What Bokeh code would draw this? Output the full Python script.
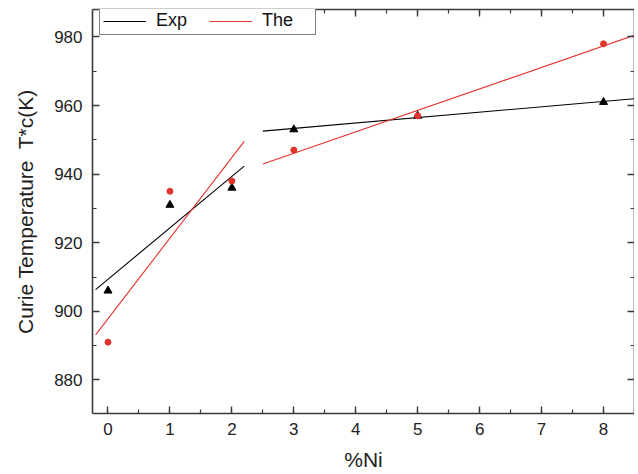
import numpy as np
from bokeh.plotting import figure
from bokeh.models import (LinearAxis, SingleIntervalTicker, Legend, LegendItem, Range1d,
                          CustomJSTickFormatter)
from bokeh.embed import file_html
from bokeh.resources import INLINE

# Data
ni = [0, 1, 2, 3, 5, 8]
tc_exp = [906, 931, 936, 953, 957, 961]
tc_the = [891, 935, 938, 947, 957, 978]
# fit groups (indices into data) and fit x extents
fit_groups = [[0, 1, 2], [3, 4, 5]]
fit_extents = [[-0.2, 2.2], [2.5, 8.5]]

BLACK = "#000000"
RED = "#e3342c"
AX = "#3a3a3a"
FONT = "Liberation Sans"

p = figure(frame_width=542, frame_height=404, x_range=Range1d(-0.25, 8.5),
           y_range=Range1d(870.2, 988), output_backend="svg", toolbar_location=None,
           min_border_left=92, min_border_top=9, min_border_right=0, min_border_bottom=0,
           x_axis_location=None, y_axis_location=None)
p.outline_line_color = None
p.xgrid.visible = False
p.ygrid.visible = False


def style_axis(ax, labels=True):
    ax.axis_line_color = AX
    ax.axis_line_width = 1.6
    ax.major_tick_line_color = AX
    ax.minor_tick_line_color = AX
    ax.major_tick_line_width = 1.4
    ax.minor_tick_line_width = 1.2
    ax.major_tick_in = 7
    ax.major_tick_out = 0
    ax.minor_tick_in = 4
    ax.minor_tick_out = 0
    ax.major_label_text_font = FONT
    ax.major_label_text_color = "#222222"
    ax.axis_label_text_font = FONT
    ax.axis_label_text_font_style = "normal"
    ax.axis_label_text_color = "#222222"
    if not labels:
        ax.formatter = CustomJSTickFormatter(code="return ''")
        ax.major_label_standoff = 0


xt = SingleIntervalTicker(interval=1, num_minor_ticks=2)
yt = SingleIntervalTicker(interval=20, num_minor_ticks=2)

xb = LinearAxis(ticker=xt, axis_label="%Ni")
style_axis(xb)
xb.major_label_text_font_size = "17px"
xb.major_label_standoff = 9
xb.axis_label_text_font_size = "21px"
xb.axis_label_standoff = 10
p.add_layout(xb, "below")

yl = LinearAxis(ticker=yt, axis_label="Curie Temperature\u00a0 T*c(K)")
style_axis(yl)
yl.major_label_text_font_size = "17px"
yl.major_label_standoff = 10
yl.axis_label_text_font_size = "21px"
yl.axis_label_standoff = 14
p.add_layout(yl, "left")

xa = LinearAxis(ticker=SingleIntervalTicker(interval=1, num_minor_ticks=2))
style_axis(xa, labels=False)
p.add_layout(xa, "above")

yr = LinearAxis(ticker=SingleIntervalTicker(interval=20, num_minor_ticks=2))
style_axis(yr, labels=False)
p.add_layout(yr, "right")

# fit lines
items = []
for vals, color, name in [(tc_exp, BLACK, "Exp"), (tc_the, RED, "The")]:
    renderers = []
    for grp, ext in zip(fit_groups, fit_extents):
        gx = np.array([ni[i] for i in grp], dtype=float)
        gy = np.array([vals[i] for i in grp], dtype=float)
        m, b = np.polyfit(gx, gy, 1)
        ex = np.array(ext)
        r = p.line(ex, m * ex + b, line_color=color, line_width=1.1)
        renderers.append(r)
    items.append(LegendItem(label=name, renderers=[renderers[0]]))

p.scatter(ni, tc_exp, marker="triangle", size=8, fill_color=BLACK, line_color=BLACK)
p.scatter(ni, tc_the, marker="circle", size=6, fill_color=RED, line_color=RED)

legend = Legend(items=items, orientation="horizontal", location=(7, 404 - 26),
                label_text_font=FONT, label_text_font_size="18px",
                label_text_color="#111111",
                glyph_width=43, glyph_height=18, label_height=18, label_width=50,
                label_standoff=10, spacing=3, padding=3, margin=0,
                border_line_color="#000000", border_line_width=1,
                background_fill_alpha=1)
p.add_layout(legend, "center")

open("out.html", "w").write(file_html(p, INLINE))
